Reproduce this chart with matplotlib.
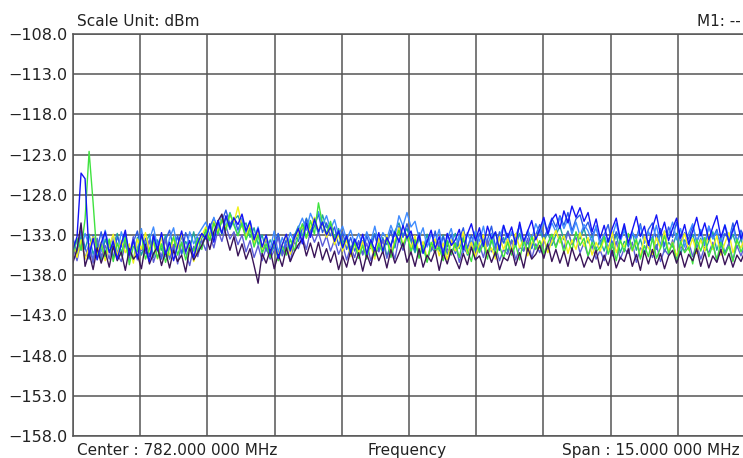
import matplotlib.pyplot as plt
import numpy as np

# spectrum analyser screen, 8 overlaid traces (dBm), 168 points each over 15 MHz span
f_start = 774.5
f_stop = 789.5

blue = [
    -134.8, -133.2, -125.3, -126.0, -135.6, -133.4, -136.1, -134.0, -132.6, -135.2, -133.8, -136.0,
    -134.1, -132.4, -135.5, -133.6, -135.9, -132.9, -134.7, -136.3, -133.1, -134.9, -132.7, -135.4,
    -133.9, -136.2, -134.3, -132.5, -135.1, -133.7, -135.8, -134.0, -132.8, -133.5, -131.6, -133.9,
    -131.2, -132.8, -130.6, -132.1, -130.9, -131.7, -130.4, -132.5, -131.3, -133.6, -132.2, -134.5,
    -133.0, -135.3, -133.7, -135.9, -134.2, -132.9, -135.0, -133.4, -132.2, -134.1, -131.5, -133.3,
    -131.0, -132.6, -131.4, -133.0, -132.0, -133.8, -132.5, -134.6, -133.1, -135.2, -133.5, -134.8,
    -132.9, -135.4, -133.6, -134.9, -132.7, -135.0, -133.3, -134.4, -132.6, -133.9, -131.8, -133.4,
    -132.5, -134.6, -133.0, -135.3, -133.8, -132.4, -134.7, -133.2, -135.5, -132.8, -134.3, -133.6,
    -132.3, -134.8, -132.9, -131.6, -133.7, -132.1, -134.4, -131.9, -133.5, -132.6, -134.9, -131.8,
    -133.3, -132.0, -134.2, -131.4, -133.8, -132.5, -131.2, -133.6, -132.3, -130.8, -132.9, -131.1,
    -130.4, -132.2, -130.0, -131.5, -129.4, -130.8, -129.6, -131.3, -130.2, -132.6, -131.0, -133.4,
    -131.8, -133.9, -132.2, -130.9, -133.5, -131.6, -134.0, -132.4, -130.7, -133.2, -131.9, -134.3,
    -132.1, -130.5, -133.0, -131.4, -133.7, -132.2, -130.9, -133.4, -131.7, -134.1, -132.5, -130.8,
    -133.1, -131.5, -133.6, -132.0, -130.6, -133.3, -131.8, -133.9, -132.4, -131.2, -133.5, -132.0,
]

medium_blue = [
    -133.4, -135.1, -132.3, -134.6, -136.0, -133.0, -134.8, -132.6, -135.3, -133.7, -135.9, -133.2,
    -134.5, -132.8, -135.6, -133.9, -132.5, -134.9, -133.4, -135.7, -132.9, -134.2, -136.0, -133.6,
    -132.4, -134.8, -133.1, -135.4, -132.7, -134.0, -135.9, -133.3, -134.6, -133.0, -132.0, -130.9,
    -132.6, -131.3, -129.9, -131.7, -130.8, -132.4, -131.0, -133.2, -131.9, -134.0, -132.7, -135.0,
    -133.5, -135.6, -134.1, -132.8, -135.2, -133.6, -134.7, -132.9, -133.8, -132.2, -131.0, -133.0,
    -131.9, -130.4, -132.7, -131.5, -133.1, -132.0, -134.3, -132.6, -134.8, -133.3, -135.0, -133.7,
    -135.4, -133.1, -134.7, -132.9, -135.0, -133.5, -134.2, -132.4, -134.6, -131.9, -133.3, -131.6,
    -133.4, -134.9, -132.7, -135.2, -133.6, -134.8, -132.5, -135.0, -133.2, -134.5, -132.9, -135.3,
    -133.5, -132.1, -134.7, -133.0, -135.1, -132.8, -134.3, -133.6, -131.9, -134.5, -132.6, -134.0,
    -132.8, -134.9, -133.2, -131.8, -134.1, -132.7, -134.6, -133.0, -131.7, -133.5, -132.2, -130.9,
    -132.0, -130.6, -131.8, -130.2, -132.5, -131.0, -130.5, -132.3, -131.4, -133.0, -132.1, -134.0,
    -133.0, -131.7, -134.2, -132.6, -133.7, -131.9, -134.5, -132.8, -133.4, -131.6, -134.0, -132.3,
    -131.5, -133.6, -132.2, -134.4, -132.0, -133.3, -131.4, -134.0, -132.7, -133.5, -131.8, -133.9,
    -132.6, -134.3, -131.9, -133.4, -132.3, -134.6, -132.8, -133.7, -131.5, -133.8, -132.4, -134.1,
]

light_blue = [
    -135.2, -133.7, -134.9, -132.8, -134.3, -136.0, -133.5, -135.1, -132.4, -134.6, -133.0, -135.4,
    -132.6, -134.2, -136.1, -133.3, -134.8, -132.2, -135.0, -133.6, -132.0, -134.5, -133.1, -135.7,
    -133.4, -132.1, -134.7, -133.2, -135.3, -132.6, -134.1, -133.0, -132.2, -131.4, -133.1, -130.8,
    -132.4, -130.5, -131.9, -130.2, -131.6, -133.0, -130.9, -132.7, -131.2, -133.4, -132.0, -134.6,
    -133.1, -134.8, -132.5, -135.2, -133.3, -134.6, -132.7, -134.0, -132.1, -130.9, -132.4, -130.3,
    -131.5, -130.1, -131.8, -130.6, -132.3, -131.1, -133.0, -131.9, -133.6, -132.4, -134.1, -132.8,
    -134.4, -132.6, -133.9, -131.9, -134.2, -132.7, -133.5, -131.8, -133.2, -130.6, -131.9, -130.2,
    -132.0, -131.3, -133.4, -132.1, -134.5, -132.9, -134.0, -132.3, -135.1, -133.4, -132.2, -134.6,
    -133.0, -135.2, -132.7, -134.1, -132.5, -133.8, -131.9, -134.4, -132.8, -135.0, -133.3, -131.8,
    -134.0, -132.6, -133.9, -131.7, -134.3, -132.4, -133.5, -131.6, -132.8, -131.2, -133.0, -131.5,
    -132.6, -130.8, -132.2, -131.0, -132.9, -131.4, -133.1, -131.7, -132.5, -133.9, -131.8, -134.2,
    -132.9, -134.6, -133.2, -131.5, -133.8, -132.4, -134.1, -132.7, -133.5, -131.9, -134.0, -132.6,
    -133.7, -131.8, -134.3, -132.5, -133.0, -131.4, -133.6, -132.2, -134.5, -132.8, -131.6, -133.9,
    -132.3, -134.2, -131.9, -133.5, -132.6, -134.0, -131.7, -133.4, -132.1, -133.8, -132.7, -134.4,
]

purple = [
    -136.4, -134.8, -131.5, -136.9, -135.2, -137.3, -134.6, -136.5, -135.0, -137.0, -134.4, -136.2,
    -135.1, -137.4, -134.7, -136.0, -135.4, -137.2, -134.2, -136.6, -135.3, -134.5, -136.8, -135.0,
    -137.1, -134.9, -136.3, -135.5, -137.6, -134.6, -136.1, -135.2, -134.3, -133.1, -134.8, -132.6,
    -131.3, -130.4, -133.0, -134.9, -133.2, -135.6, -134.1, -136.0, -134.7, -136.8, -139.0, -135.3,
    -136.5, -134.8, -137.2, -135.4, -136.9, -134.6, -136.3, -135.1, -134.2, -133.5, -135.6, -134.0,
    -135.8, -133.9, -136.1, -134.7, -136.4, -135.0, -137.3, -135.6, -137.0, -134.9, -136.7, -135.2,
    -137.5, -135.4, -136.8, -134.6, -136.2, -135.0, -137.1, -134.8, -136.5, -135.3, -134.0, -136.4,
    -135.1, -136.9, -134.7, -137.0, -135.5, -136.3, -134.9, -137.4, -135.2, -136.6, -134.8, -136.0,
    -137.2, -135.3, -136.7, -134.5, -136.1, -135.6, -137.0, -134.9, -136.4, -135.1, -137.3, -135.8,
    -136.2, -134.7, -136.8, -135.2, -137.1, -134.6, -136.0, -135.4, -134.3, -135.9, -134.1, -136.3,
    -134.8, -136.5, -135.0, -136.9, -134.6, -136.2, -135.3, -137.0, -135.7, -136.4, -134.9, -137.2,
    -135.5, -136.8, -134.9, -137.1, -135.8, -136.3, -134.7, -136.9, -135.4, -137.4, -135.0, -136.6,
    -134.8, -136.7, -135.3, -137.2, -135.6, -134.9, -136.5, -135.1, -137.0, -135.4, -136.2, -134.7,
    -136.9, -135.2, -137.1, -135.6, -136.4, -134.8, -136.7, -135.3, -137.0, -135.5, -136.3, -135.0,
]

slate = [
    -134.5, -136.2, -133.8, -135.9, -134.1, -136.5, -133.4, -135.7, -134.3, -136.0, -133.6, -135.4,
    -136.3, -134.0, -135.8, -133.2, -136.1, -134.6, -135.3, -133.7, -136.4, -134.8, -135.6, -133.5,
    -135.9, -134.2, -136.6, -133.9, -135.2, -136.8, -134.4, -135.7, -133.6, -134.9, -133.0, -134.6,
    -132.4, -133.8, -131.9, -133.5, -132.6, -134.2, -133.0, -135.1, -133.7, -135.8, -134.3, -136.2,
    -134.6, -136.0, -134.9, -133.3, -135.6, -134.1, -136.3, -133.8, -134.7, -133.2, -134.8, -132.5,
    -133.9, -132.7, -134.4, -133.1, -135.0, -133.6, -135.4, -134.2, -136.1, -134.5, -135.8, -133.9,
    -135.5, -134.0, -136.2, -134.6, -135.1, -133.7, -135.9, -134.3, -136.0, -133.4, -134.9, -133.2,
    -134.8, -133.5, -135.7, -134.1, -136.3, -134.5, -135.2, -133.8, -136.1, -134.7, -135.5, -134.0,
    -136.4, -134.6, -135.3, -133.9, -136.0, -134.2, -135.8, -133.6, -135.1, -134.4, -136.2, -134.8,
    -135.4, -133.7, -136.1, -134.5, -135.0, -133.4, -135.9, -134.1, -135.2, -133.6, -134.9, -133.3,
    -134.4, -133.0, -134.7, -132.6, -134.1, -133.3, -135.2, -134.0, -135.6, -134.3, -136.0, -134.9,
    -136.2, -134.4, -135.6, -133.8, -136.0, -134.7, -135.3, -133.9, -136.4, -134.6, -135.1, -133.7,
    -135.8, -134.2, -136.3, -134.8, -135.5, -133.6, -136.1, -134.4, -135.0, -133.8, -135.7, -134.1,
    -136.0, -134.5, -135.2, -133.9, -136.3, -134.7, -135.4, -134.0, -136.1, -134.3, -135.6, -134.2,
]

teal = [
    -133.9, -135.6, -133.1, -134.8, -132.9, -135.4, -134.0, -136.1, -133.5, -135.0, -134.3, -132.8,
    -135.2, -133.8, -134.6, -136.2, -133.3, -135.5, -134.1, -132.9, -135.8, -133.6, -134.9, -133.0,
    -136.0, -134.4, -133.2, -135.3, -133.8, -134.7, -132.6, -135.1, -133.4, -132.5, -131.8, -133.3,
    -131.4, -132.9, -130.7, -132.3, -131.1, -130.6, -132.0, -131.5, -133.3, -132.1, -134.2, -133.0,
    -135.0, -133.6, -134.8, -132.9, -135.5, -133.7, -134.5, -133.1, -131.9, -133.2, -130.9, -132.6,
    -131.2, -132.9, -130.5, -132.1, -131.7, -133.4, -132.2, -134.0, -133.1, -134.7, -133.5, -135.1,
    -133.7, -135.3, -134.0, -132.8, -134.9, -133.3, -135.6, -134.2, -132.5, -131.5, -133.1, -132.2,
    -133.8, -135.2, -133.4, -134.8, -132.9, -135.0, -133.6, -134.6, -133.0, -135.4, -134.1, -132.8,
    -134.7, -133.2, -135.5, -134.0, -132.6, -134.9, -133.5, -135.2, -133.9, -132.7, -134.6, -133.3,
    -135.1, -133.6, -134.4, -132.8, -135.0, -133.9, -134.7, -133.1, -132.4, -133.8, -132.7, -134.3,
    -133.0, -131.9, -133.6, -132.5, -134.2, -132.8, -133.5, -132.2, -134.0, -133.1, -134.8, -133.6,
    -135.0, -133.4, -134.6, -132.9, -135.2, -133.8, -134.3, -132.6, -134.9, -133.5, -135.3, -134.0,
    -133.2, -134.8, -132.7, -135.1, -133.9, -134.5, -132.8, -135.4, -133.6, -134.2, -132.9, -134.7,
    -133.4, -135.0, -133.8, -132.6, -134.9, -133.3, -135.2, -134.1, -132.9, -134.6, -133.5, -135.1,
]

green = [
    -135.3, -133.4, -134.9, -131.0, -122.6, -129.0, -136.0, -134.2, -135.7, -133.5, -136.3, -134.0,
    -135.6, -133.3, -136.7, -134.4, -135.1, -133.0, -136.0, -134.7, -133.6, -135.9, -134.1, -136.4,
    -134.6, -133.2, -135.5, -133.9, -136.1, -134.3, -135.0, -133.4, -134.8, -132.3, -133.7, -131.5,
    -132.9, -131.1, -132.4, -130.3, -131.8, -133.1, -131.5, -133.6, -132.2, -134.5, -133.0, -135.3,
    -134.1, -135.8, -133.6, -136.2, -134.4, -135.5, -133.5, -135.0, -133.1, -131.6, -133.4, -131.2,
    -132.9, -129.0, -131.6, -132.8, -131.3, -133.5, -132.7, -134.6, -133.2, -135.4, -133.9, -135.9,
    -134.3, -136.0, -133.8, -135.6, -134.1, -135.2, -133.4, -135.8, -134.0, -132.4, -134.5, -133.0,
    -135.1, -133.6, -135.9, -134.3, -136.4, -133.9, -135.0, -134.5, -136.2, -133.7, -135.4, -134.0,
    -135.8, -133.5, -134.9, -136.3, -133.8, -135.2, -134.1, -136.0, -133.3, -135.6, -134.4, -135.9,
    -133.9, -135.5, -134.2, -136.1, -133.6, -135.0, -133.2, -134.8, -133.7, -135.3, -134.0, -132.9,
    -134.6, -133.1, -135.2, -133.7, -134.9, -132.6, -134.3, -133.4, -135.6, -133.9, -135.1, -134.5,
    -133.2, -135.4, -134.0, -136.2, -133.6, -135.1, -132.8, -134.9, -133.5, -136.0, -134.3, -135.7,
    -133.4, -135.9, -134.6, -133.1, -135.3, -134.0, -136.4, -133.8, -135.2, -134.5, -136.6, -133.6,
    -135.0, -133.3, -135.7, -134.2, -136.1, -133.9, -135.5, -134.4, -136.3, -133.5, -135.1, -134.0,
]

yellow = [
    -134.0, -135.8, -133.6, -136.0, -134.5, -133.2, -135.3, -133.9, -136.2, -134.4, -132.9, -135.6,
    -133.7, -135.2, -134.1, -136.5, -133.5, -134.8, -132.7, -135.1, -134.0, -136.0, -133.3, -134.9,
    -135.5, -133.4, -134.7, -132.8, -135.0, -133.9, -136.3, -134.2, -133.1, -132.0, -133.5, -131.3,
    -132.6, -131.0, -132.2, -130.5, -131.4, -129.5, -131.9, -133.2, -131.7, -134.0, -132.5, -134.8,
    -133.3, -135.1, -133.9, -135.6, -134.2, -133.0, -135.4, -133.6, -132.5, -131.9, -133.4, -132.0,
    -130.8, -132.5, -131.5, -133.3, -132.0, -134.2, -132.9, -135.0, -133.6, -135.7, -134.1, -135.2,
    -133.8, -135.5, -134.3, -136.0, -133.4, -134.9, -133.0, -135.3, -133.7, -132.1, -134.2, -132.9,
    -134.6, -133.1, -135.2, -133.8, -135.9, -134.3, -133.5, -135.6, -134.0, -136.1, -133.6, -135.0,
    -134.4, -132.6, -135.3, -133.9, -135.7, -134.1, -133.0, -135.4, -134.6, -136.0, -133.2, -134.8,
    -133.5, -135.1, -132.8, -134.6, -133.4, -135.6, -134.0, -132.9, -134.7, -133.3, -135.2, -133.8,
    -132.4, -134.0, -133.1, -135.3, -133.6, -134.8, -132.7, -134.4, -133.3, -135.5, -133.9, -135.0,
    -133.5, -134.9, -132.6, -135.2, -133.8, -134.5, -132.9, -135.0, -133.7, -135.8, -133.2, -134.6,
    -135.4, -133.3, -134.7, -132.5, -135.1, -133.9, -135.6, -134.2, -132.8, -134.9, -133.4, -135.3,
    -133.6, -135.0, -132.9, -134.8, -133.1, -135.5, -134.0, -132.7, -135.2, -133.8, -134.6, -133.2,
]

# drawing order: bottom first
traces = [teal, medium_blue, light_blue, slate, yellow, green, purple, blue]
colors = ['#1fa3a0', '#2a5ae6', '#3f8cff', '#5c5cd8', '#f2f21c', '#3fe23f', '#3a1458', '#1414f5']

y_ticks = np.arange(-108.0, -158.1, -5.0)

fig = plt.figure(figsize=(7.43, 4.58), dpi=100)
ax = fig.add_axes([73 / 743, 22 / 458, 672 / 743, 402 / 458])

freq = np.linspace(f_start, f_stop, len(blue))
for tr, c in zip(traces, colors):
    ax.plot(freq, tr, color=c, lw=1.0)

ax.set_xlim(f_start, f_stop)
ax.set_ylim(-158, -108)
ax.set_xticks(np.linspace(f_start, f_stop, 11))
ax.set_xticklabels([])
ax.set_yticks(y_ticks)
ax.set_yticklabels(['\u2212%.1f' % abs(v) for v in y_ticks], fontsize=11.5, color='#222222')
ax.tick_params(length=0, pad=4)
ax.grid(True, color='#555555', lw=1.1)
ax.set_axisbelow(True)
for s in ['left', 'top', 'bottom']:
    ax.spines[s].set_color('#555555')
    ax.spines[s].set_linewidth(1.1)
ax.spines['right'].set_visible(False)

fig.text(77 / 743, 1 - 26 / 458, 'Scale Unit: dBm', fontsize=11, color='#222222', va='baseline')
fig.text(741 / 743, 1 - 26 / 458, 'M1: --', fontsize=11, color='#222222', ha='right', va='baseline')
fig.text(77 / 743, 1 - 455 / 458, 'Center : 782.000 000 MHz', fontsize=11, color='#222222', va='baseline')
fig.text(407 / 743, 1 - 455 / 458, 'Frequency', fontsize=11, color='#222222', ha='center', va='baseline')
fig.text(740 / 743, 1 - 455 / 458, 'Span : 15.000 000 MHz', fontsize=11, color='#222222', ha='right', va='baseline')

fig.savefig('out.png', dpi=100)
